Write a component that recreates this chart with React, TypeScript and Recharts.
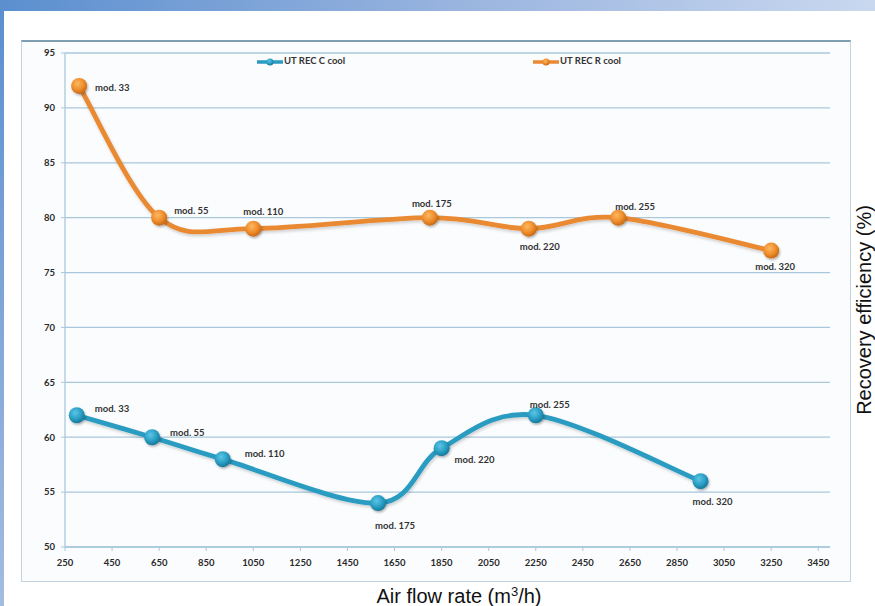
import { CartesianGrid, LabelList, Line, LineChart, XAxis, YAxis } from "recharts";

const MODELS = ["mod. 33", "mod. 55", "mod. 110", "mod. 175", "mod. 220", "mod. 255", "mod. 320"];

// UT REC R cool (orange)
const R_FLOW = [310, 650, 1050, 1800, 2220, 2600, 3250];
const R_EFF = [92, 80, 79, 80, 79, 80, 77];

// UT REC C cool (blue)
const C_FLOW = [300, 620, 920, 1580, 1850, 2250, 2950];
const C_EFF = [62, 60, 58, 54, 59, 62, 56];

const X_TICKS = [250, 450, 650, 850, 1050, 1250, 1450, 1650, 1850, 2050, 2250, 2450, 2650, 2850, 3050, 3250, 3450];
const Y_TICKS = [50, 55, 60, 65, 70, 75, 80, 85, 90, 95];

// where each "mod." label sits relative to its point: [dx, dy, anchor]
const R_LABEL_POS: [number, number, string][] = [
  [16, 3, "start"],
  [15, -6, "start"],
  [10, -16, "middle"],
  [2, -13, "middle"],
  [11, 19, "middle"],
  [17, -10, "middle"],
  [4, 17, "middle"],
];
const C_LABEL_POS: [number, number, string][] = [
  [18, -6, "start"],
  [18, -4, "start"],
  [22, -5, "start"],
  [17, 23, "middle"],
  [13, 12, "start"],
  [14, -10, "middle"],
  [12, 21, "middle"],
];

const ORANGE = "#e98a33";
const BLUE = "#2a9cc1";
const GRID = "#a9c8dc";
const TICK_FONT = { fill: "#2a2a2a", fontSize: 9.5, fontWeight: 700, fontFamily: "Lato" };

const rData = R_FLOW.map((x, i) => ({ x, y: R_EFF[i], model: MODELS[i] }));
const cData = C_FLOW.map((x, i) => ({ x, y: C_EFF[i], model: MODELS[i] }));

// Excel-like smoothed line (Catmull-Rom through every point)
function excelSmooth(context: any) {
  let pts: [number, number][] = [];
  return {
    areaStart() {},
    areaEnd() {},
    lineStart() {
      pts = [];
    },
    point(x: number, y: number) {
      pts.push([+x, +y]);
    },
    lineEnd() {
      const n = pts.length;
      if (!n) return;
      context.moveTo(pts[0][0], pts[0][1]);
      for (let i = 0; i < n - 1; i++) {
        const p0 = pts[Math.max(i - 1, 0)];
        const p1 = pts[i];
        const p2 = pts[i + 1];
        const p3 = pts[Math.min(i + 2, n - 1)];
        context.bezierCurveTo(
          p1[0] + (p2[0] - p0[0]) / 6,
          p1[1] + (p2[1] - p0[1]) / 6,
          p2[0] - (p3[0] - p1[0]) / 6,
          p2[1] - (p3[1] - p1[1]) / 6,
          p2[0],
          p2[1]
        );
      }
    },
  };
}

function makeDot(grad: string) {
  return (p: any) => (
    <circle key={`dot-${grad}-${p.index}`} cx={p.cx} cy={p.cy} r={8} fill={`url(#${grad})`} filter="url(#dotShadow)" />
  );
}

function makeLabel(pos: [number, number, string][]) {
  return (p: any) => {
    const [dx, dy, anchor] = pos[p.index] ?? [12, 0, "start"];
    return (
      <text
        x={p.x + dx}
        y={p.y + dy}
        textAnchor={anchor as any}
        dominantBaseline="middle"
        fontFamily="Lato"
        fontSize={9.5}
        fontWeight={700}
        fill="#333"
      >
        {p.value}
      </text>
    );
  };
}

function LegendItem({ x, y, color, grad, text }: { x: number; y: number; color: string; grad: string; text: string }) {
  return (
    <g>
      <line x1={x} y1={y} x2={x + 26} y2={y} stroke={color} strokeWidth={3.5} />
      <circle cx={x + 13} cy={y} r={3.5} fill={`url(#${grad})`} />
      <text x={x + 27} y={y} dominantBaseline="middle" fontFamily="Lato" fontSize={9.5} fontWeight={700} fill="#333">
        {text}
      </text>
    </g>
  );
}

export default function App() {
  return (
    <div style={{ position: "absolute", left: 0, top: 0, width: 875, height: 606, background: "#fff", overflow: "hidden" }}>
      <div
        style={{
          position: "absolute",
          left: 0,
          top: 0,
          width: 875,
          height: 11,
          background: "linear-gradient(to right, #5b8fcf, #9cb6e0 55%, #c9d8ef)",
        }}
      />
      <div
        style={{
          position: "absolute",
          left: 0,
          top: 0,
          width: 4,
          height: 606,
          background: "linear-gradient(to bottom, #5b8fcf, #a4bce0)",
        }}
      />
      <div
        style={{
          position: "absolute",
          left: 21,
          top: 40,
          width: 828,
          height: 539,
          background: "#fbfcfe",
          borderTop: "2px solid #7d9db0",
          borderLeft: "1px solid #c3d3de",
          borderRight: "1px solid #c3d3de",
          borderBottom: "1px solid #c3d3de",
        }}
      />
      <div style={{ position: "absolute", left: 0, top: 0 }}>
        <LineChart width={875} height={606} margin={{ top: 53, right: 45, bottom: 29, left: 20 }}>
          <defs>
            <radialGradient id="gradO" cx="40%" cy="35%" r="65%">
              <stop offset="0%" stopColor="#fbb860" />
              <stop offset="60%" stopColor="#ef8d2c" />
              <stop offset="100%" stopColor="#c96a16" />
            </radialGradient>
            <radialGradient id="gradB" cx="40%" cy="35%" r="65%">
              <stop offset="0%" stopColor="#5cc6e6" />
              <stop offset="60%" stopColor="#2a9ec4" />
              <stop offset="100%" stopColor="#17799a" />
            </radialGradient>
            <filter id="dotShadow" x="-50%" y="-50%" width="200%" height="200%">
              <feDropShadow dx="1" dy="1.5" stdDeviation="1.2" floodColor="#000" floodOpacity="0.3" />
            </filter>
            <filter id="lineShadow" x="-5%" y="-20%" width="110%" height="140%">
              <feDropShadow dx="1" dy="2" stdDeviation="1.5" floodColor="#000" floodOpacity="0.18" />
            </filter>
          </defs>
          <CartesianGrid vertical={false} stroke={GRID} strokeWidth={1.3} />
          <XAxis
            type="number"
            dataKey="x"
            domain={[250, 3500]}
            ticks={X_TICKS}
            allowDataOverflow
            tick={TICK_FONT}
            tickLine={{ stroke: GRID }}
            tickSize={4}
            tickMargin={8}
            axisLine={{ stroke: GRID, strokeWidth: 1.3 }}
            height={30}
          />
          <YAxis
            type="number"
            dataKey="y"
            domain={[50, 95]}
            ticks={Y_TICKS}
            tick={TICK_FONT}
            tickLine={{ stroke: GRID }}
            tickSize={4}
            tickMargin={6}
            axisLine={{ stroke: GRID, strokeWidth: 1.3 }}
            width={45}
          />
          <Line
            data={cData}
            dataKey="y"
            name="UT REC C cool"
            type={excelSmooth as any}
            stroke={BLUE}
            strokeWidth={4.8}
            filter="url(#lineShadow)"
            dot={makeDot("gradB")}
            activeDot={false}
            isAnimationActive={false}
          >
            <LabelList dataKey="model" content={makeLabel(C_LABEL_POS)} />
          </Line>
          <Line
            data={rData}
            dataKey="y"
            name="UT REC R cool"
            type={excelSmooth as any}
            stroke={ORANGE}
            strokeWidth={4.8}
            filter="url(#lineShadow)"
            dot={makeDot("gradO")}
            activeDot={false}
            isAnimationActive={false}
          >
            <LabelList dataKey="model" content={makeLabel(R_LABEL_POS)} />
          </Line>
          <LegendItem x={257} y={62} color={BLUE} grad="gradB" text="UT REC C cool" />
          <LegendItem x={533} y={62} color={ORANGE} grad="gradO" text="UT REC R cool" />
          <text x={459} y={603} textAnchor="middle" fontFamily="Liberation Sans" fontSize={20} fill="#111">
            Air flow rate (m<tspan dy={-7} fontSize={13}>3</tspan>
            <tspan dy={7}>/h)</tspan>
          </text>
          <text
            x={871}
            y={310}
            transform="rotate(-90 871 310)"
            textAnchor="middle"
            fontFamily="Liberation Sans"
            fontSize={20}
            fill="#111"
          >
            Recovery efficiency (%)
          </text>
        </LineChart>
      </div>
    </div>
  );
}
